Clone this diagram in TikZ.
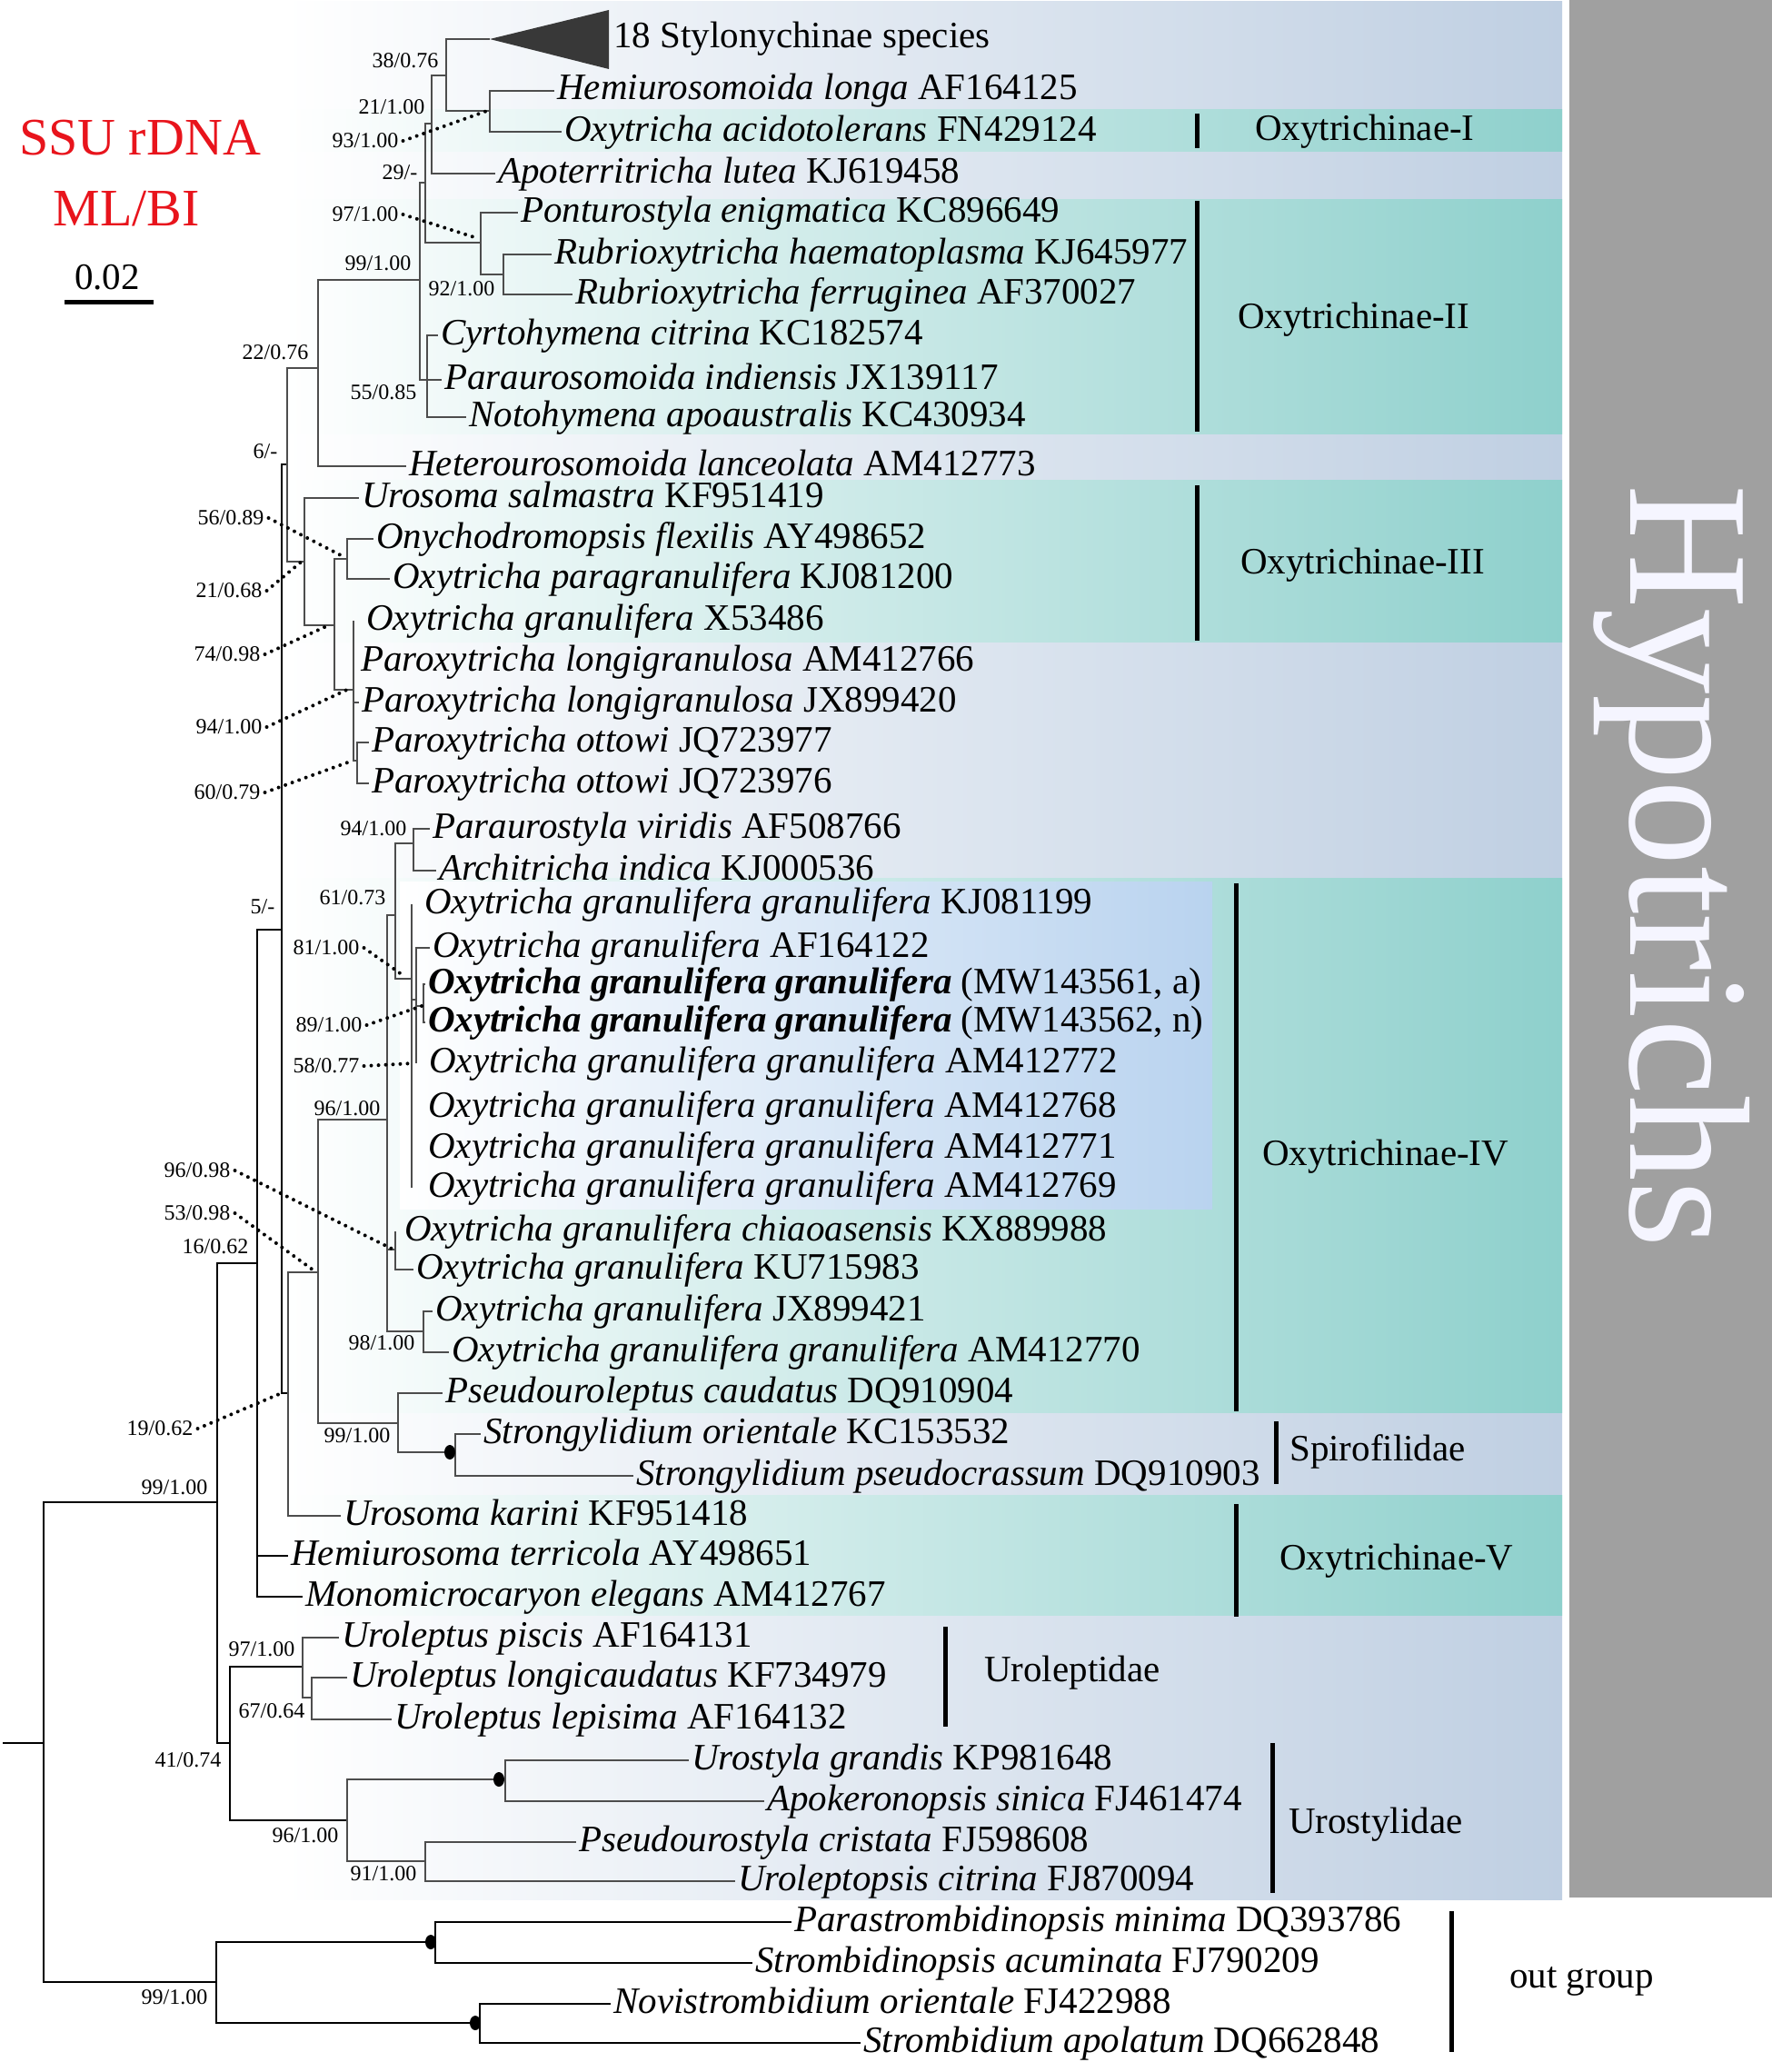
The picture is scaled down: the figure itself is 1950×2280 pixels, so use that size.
\documentclass[tikz,border=0pt]{standalone}
\usepackage{fontspec}
\setmainfont{Liberation Serif}
\definecolor{panelc}{HTML}{BFCFE2}
\definecolor{tealc}{HTML}{8ED0CC}
\definecolor{boxc}{HTML}{B9D3EF}
\definecolor{grayc}{HTML}{A0A0A0}
\definecolor{ssured}{HTML}{E8141C}
\definecolor{brc}{HTML}{4D4D4D}
\begin{document}
\begin{tikzpicture}[x=1pt,y=-1pt,
 leaf/.style={anchor=west,inner sep=0pt,inner xsep=3pt,text height=29pt,text depth=9pt,font=\fontsize{41}{49}\selectfont},
 suplab/.style={inner sep=0pt,font=\fontsize{24}{28}\selectfont},
 br/.style={draw=brc,line width=2.2pt},
 brk/.style={draw=black,line width=2.6pt},
 dotl/.style={draw=black,line width=4pt,line cap=round,dash pattern=on 0pt off 8pt},
 grpbar/.style={draw=black,line width=5pt}]
\useasboundingbox (0,0) rectangle (1950,2280);
% ---------- backgrounds ----------
\shade[left color=white,right color=panelc] (312,2) rectangle (1719,2090);
\foreach \a/\b in {121/166,219/477,528/706,966/1554,1645/1777}
  \shade[left color=white,right color=tealc] (312,\a) rectangle (1719,\b);
\shade[left color=white,right color=boxc] (440,970) rectangle (1334,1330);
\fill[grayc] (1727,0) rectangle (1950,2088);
\node[rotate=-90,anchor=base west,inner sep=0pt,text=white!96!blue,font=\fontsize{189}{200}\selectfont] (hyp) at (1794,533) {Hypotrichs};
% ---------- title / scale ----------
\node[inner sep=0pt,text=ssured,font=\fontsize{58}{64}\selectfont] (t1) at (154,152) {SSU rDNA};
\node[inner sep=0pt,text=ssured,font=\fontsize{58}{64}\selectfont] (t2) at (139,230) {ML/BI};
\node[inner sep=0pt,font=\fontsize{41}{48}\selectfont] (sc) at (118,305) {0.02};
\coordinate (sb1) at (71,332); \coordinate (sb2) at (169,332);
\draw[line width=5pt] (sb1) -- (sb2);
% ---------- internal nodes ----------
\coordinate (root) at (48,1918);
\coordinate (r0) at (3,1918);
\coordinate (nin) at (239,1653);
\coordinate (nout) at (238,2181);
\coordinate (no1) at (479,2137);
\coordinate (no2) at (528,2226);
\coordinate (n16) at (283,1390);
\coordinate (n41) at (253,1918);
\coordinate (n97u) at (333,1834);
\coordinate (n67) at (343,1868);
\coordinate (n96u) at (382,2003);
\coordinate (nus) at (556,1958);
\coordinate (n91) at (468,2048);
\coordinate (n5) at (310,1023);
\coordinate (n6) at (316,511);
\coordinate (n22) at (350,405);
\coordinate (n99a) at (462,308);
\coordinate (n29) at (468,201);
\coordinate (n21) at (475,136);
\coordinate (n38) at (491,83);
\coordinate (n93) at (539,122);
\coordinate (n97) at (529,267);
\coordinate (n92) at (554,302);
\coordinate (n55) at (470,418);
\coordinate (n2168) at (335,618);
\coordinate (n74) at (368,688);
\coordinate (n56) at (382,615);
\coordinate (n94p) at (389,759);
\coordinate (n60) at (393,837);
\coordinate (n19) at (317,1533);
\coordinate (n53) at (350,1400);
\coordinate (n96) at (426,1232);
\coordinate (n61) at (435,1007);
\coordinate (n94a) at (455,928);
\coordinate (n81) at (453,1077);
\coordinate (n58) at (458,1100);
\coordinate (n89) at (466,1107);
\coordinate (n9698) at (435,1375);
\coordinate (n98) at (466,1465);
\coordinate (n99s) at (438,1566);
\coordinate (nst) at (501,1598);
\coordinate (tri) at (539,43);
\coordinate (tr1) at (670,11);
\coordinate (tr2) at (670,76);
% ---------- leaves ----------
\node[leaf] (L1) at (672,43) {18 Stylonychinae species};
\node[leaf] (L2) at (610,100) {\textit{Hemiurosomoida longa} AF164125};
\node[leaf] (L3) at (618,145) {\textit{Oxytricha acidotolerans} FN429124};
\node[leaf] (L4) at (545,191) {\textit{Apoterritricha lutea} KJ619458};
\node[leaf] (L5) at (570,234) {\textit{Ponturostyla enigmatica} KC896649};
\node[leaf] (L6) at (607,280) {\textit{Rubrioxytricha haematoplasma} KJ645977};
\node[leaf] (L7) at (630,324) {\textit{Rubrioxytricha ferruginea} AF370027};
\node[leaf] (L8) at (482,369) {\textit{Cyrtohymena citrina} KC182574};
\node[leaf] (L9) at (486,418) {\textit{Paraurosomoida indiensis} JX139117};
\node[leaf] (L10) at (513,459) {\textit{Notohymena apoaustralis} KC430934};
\node[leaf] (L11) at (447,513) {\textit{Heterourosomoida lanceolata} AM412773};
\node[leaf] (L12) at (395,548) {\textit{Urosoma salmastra} KF951419};
\node[leaf] (L13) at (411,593) {\textit{Onychodromopsis flexilis} AY498652};
\node[leaf] (L14) at (429,637) {\textit{Oxytricha paragranulifera} KJ081200};
\node[leaf] (L15) at (400,683) {\textit{Oxytricha granulifera} X53486};
\node[leaf] (L16) at (394,728) {\textit{Paroxytricha longigranulosa} AM412766};
\node[leaf] (L17) at (395,773) {\textit{Paroxytricha longigranulosa} JX899420};
\node[leaf] (L18) at (406,817) {\textit{Paroxytricha ottowi} JQ723977};
\node[leaf] (L19) at (406,862) {\textit{Paroxytricha ottowi} JQ723976};
\node[leaf] (L20) at (473,912) {\textit{Paraurostyla viridis} AF508766};
\node[leaf] (L21) at (480,958) {\textit{Architricha indica} KJ000536};
\node[leaf] (L22) at (464,995) {\textit{Oxytricha granulifera granulifera} KJ081199};
\node[leaf] (L23) at (473,1043) {\textit{Oxytricha granulifera} AF164122};
\node[leaf] (L24) at (468,1083) {\textbf{\textit{Oxytricha granulifera granulifera}} (MW143561, a)};
\node[leaf] (L25) at (468,1125) {\textbf{\textit{Oxytricha granulifera granulifera}} (MW143562, n)};
\node[leaf] (L26) at (469,1170) {\textit{Oxytricha granulifera granulifera} AM412772};
\node[leaf] (L27) at (468,1219) {\textit{Oxytricha granulifera granulifera} AM412768};
\node[leaf] (L28) at (468,1264) {\textit{Oxytricha granulifera granulifera} AM412771};
\node[leaf] (L29) at (468,1307) {\textit{Oxytricha granulifera granulifera} AM412769};
\node[leaf] (L30) at (442,1355) {\textit{Oxytricha granulifera chiaoasensis} KX889988};
\node[leaf] (L31) at (455,1397) {\textit{Oxytricha granulifera} KU715983};
\node[leaf] (L32) at (476,1443) {\textit{Oxytricha granulifera} JX899421};
\node[leaf] (L33) at (494,1488) {\textit{Oxytricha granulifera granulifera} AM412770};
\node[leaf] (L34) at (487,1533) {\textit{Pseudouroleptus caudatus} DQ910904};
\node[leaf] (L35) at (529,1578) {\textit{Strongylidium orientale} KC153532};
\node[leaf] (L36) at (697,1624) {\textit{Strongylidium pseudocrassum} DQ910903};
\node[leaf] (L37) at (375,1668) {\textit{Urosoma karini} KF951418};
\node[leaf] (L38) at (317,1712) {\textit{Hemiurosoma terricola} AY498651};
\node[leaf] (L39) at (333,1757) {\textit{Monomicrocaryon elegans} AM412767};
\node[leaf] (L40) at (373,1802) {\textit{Uroleptus piscis} AF164131};
\node[leaf] (L41) at (382,1846) {\textit{Uroleptus longicaudatus} KF734979};
\node[leaf] (L42) at (431,1892) {\textit{Uroleptus lepisima} AF164132};
\node[leaf] (L43) at (758,1937) {\textit{Urostyla grandis} KP981648};
\node[leaf] (L44) at (841,1982) {\textit{Apokeronopsis sinica} FJ461474};
\node[leaf] (L45) at (634,2027) {\textit{Pseudourostyla cristata} FJ598608};
\node[leaf] (L46) at (809,2070) {\textit{Uroleptopsis citrina} FJ870094};
\node[leaf] (L47) at (871,2115) {\textit{Parastrombidinopsis minima} DQ393786};
\node[leaf] (L48) at (828,2160) {\textit{Strombidinopsis acuminata} FJ790209};
\node[leaf] (L49) at (672,2205) {\textit{Novistrombidium orientale} FJ422988};
\node[leaf] (L50) at (947,2248) {\textit{Strombidium apolatum} DQ662848};
% ---------- branches ----------
\fill[black!78] (tri) -- (tr1) -- (tr2) -- cycle;
\draw[brk] (r0) -- (root);
\draw[brk] (root) |- (nin); \draw[brk] (root) |- (nout);
\draw[brk] (nin) |- (n16); \draw[brk] (nin) |- (n41);
\draw[brk] (n16) |- (n5); \draw[brk] (n16) |- (L38.west); \draw[brk] (n16) |- (L39.west);
\draw[brk] (n5) |- (n6); \draw[brk] (n5) |- (n19);
\draw[br] (n6) |- (n22); \draw[br] (n6) |- (n2168);
\draw[br] (n22) |- (n99a); \draw[br] (n22) |- (L11.west);
\draw[br] (n99a) |- (n29); \draw[br] (n99a) |- (n55);
\draw[br] (n29) |- (n21); \draw[br] (n29) |- (n97);
\draw[br] (n21) |- (n38); \draw[br] (n21) |- (L4.west);
\draw[br] (n38) |- (tri); \draw[br] (n38) |- (n93);
\draw[br] (n93) |- (L2.west); \draw[br] (n93) |- (L3.west);
\draw[br] (n97) |- (L5.west); \draw[br] (n97) |- (n92);
\draw[br] (n92) |- (L6.west); \draw[br] (n92) |- (L7.west);
\draw[br] (n55) |- (L8.west); \draw[br] (n55) -- (L9.west); \draw[br] (n55) |- (L10.west);
\draw[br] (n2168) |- (L12.west); \draw[br] (n2168) |- (n74);
\draw[br] (n74) |- (n56); \draw[br] (n74) |- (n94p);
\draw[br] (n56) |- (L13.west); \draw[br] (n56) |- (L14.west);
\draw[br] (n94p) -- (n94p |- L15.west); \draw[br] (n94p) |- (L17.west); \draw[br] (n94p) |- (n60);
\draw[br] (n60) |- (L18.west); \draw[br] (n60) |- (L19.west);
\draw[br] (n19) |- (n53); \draw[br] (n19) |- (L37.west);
\draw[br] (n53) |- (n96); \draw[br] (n53) |- (n99s);
\draw[br] (n96) |- (n61); \draw[br] (n96) |- (n9698); \draw[br] (n96) |- (n98);
\draw[br] (n61) |- (n94a); \draw[br] (n61) |- (n81);
\draw[br] (n94a) |- (L20.west); \draw[br] (n94a) |- (L21.west);
\draw[br] (n81) -- (n81 |- L22.west); \draw[br] (n81) -- (n81 |- L29.west); \draw[br] (n81) |- (n58);
\draw[br] (n58) |- (L23.west); \draw[br] (n58) -- (n58 |- L26.west); \draw[br] (n58) |- (n89);
\draw[br] (n89) |- (L24.west); \draw[br] (n89) |- (L25.west);
\draw[br] (n9698) -- (n9698 |- L30.west); \draw[br] (n9698) |- (L31.west);
\draw[br] (n98) |- (L32.west); \draw[br] (n98) |- (L33.west);
\draw[br] (n99s) |- (L34.west); \draw[br] (n99s) |- (nst);
\draw[br] (nst) |- (L35.west); \draw[br] (nst) |- (L36.west);
\draw[brk] (n41) |- (n97u); \draw[brk] (n41) |- (n96u);
\draw[br] (n97u) |- (L40.west); \draw[br] (n97u) |- (n67);
\draw[br] (n67) |- (L41.west); \draw[br] (n67) |- (L42.west);
\draw[br] (n96u) |- (nus); \draw[br] (n96u) |- (n91);
\draw[br] (nus) |- (L43.west); \draw[br] (nus) |- (L44.west);
\draw[br] (n91) |- (L45.west); \draw[br] (n91) |- (L46.west);
\draw[brk] (nout) |- (no1); \draw[brk] (nout) |- (no2);
\draw[brk] (no1) |- (L47.west); \draw[brk] (no1) |- (L48.west);
\draw[brk] (no2) |- (L49.west); \draw[brk] (no2) |- (L50.west);
% node dots
\fill[black] ([xshift=-6pt]nst) ellipse (6pt and 8pt);
\fill[black] ([xshift=-7pt]nus) ellipse (6pt and 8pt);
\fill[black] ([xshift=-5pt]no1) ellipse (6pt and 8pt);
\fill[black] ([xshift=-5pt]no2) ellipse (6pt and 8pt);
% ---------- support values ----------
\node[suplab] (s38) at (446,67) {38/0.76};
\node[suplab] (s21) at (431,118) {21/1.00};
\node[suplab] (s93) at (402,155) {93/1.00};
\node[suplab] (s29) at (440,190) {29/-};
\node[suplab] (s97) at (402,236) {97/1.00};
\node[suplab] (s99a) at (416,290) {99/1.00};
\node[suplab] (s92) at (508,318) {92/1.00};
\node[suplab] (s22) at (303,388) {22/0.76};
\node[suplab] (s55) at (422,432) {55/0.85};
\node[suplab] (s6) at (292,497) {6/-};
\node[suplab] (s56) at (254,570) {56/0.89};
\node[suplab] (s2168) at (252,650) {21/0.68};
\node[suplab] (s74) at (250,720) {74/0.98};
\node[suplab] (s94p) at (252,800) {94/1.00};
\node[suplab] (s60) at (250,872) {60/0.79};
\node[suplab] (s94a) at (411,912) {94/1.00};
\node[suplab] (s61) at (388,988) {61/0.73};
\node[suplab] (s5) at (289,998) {5/-};
\node[suplab] (s81) at (359,1043) {81/1.00};
\node[suplab] (s89) at (362,1128) {89/1.00};
\node[suplab] (s58) at (359,1173) {58/0.77};
\node[suplab] (s96) at (382,1220) {96/1.00};
\node[suplab] (s9698) at (217,1288) {96/0.98};
\node[suplab] (s53) at (217,1335) {53/0.98};
\node[suplab] (s16) at (237,1372) {16/0.62};
\node[suplab] (s98) at (420,1478) {98/1.00};
\node[suplab] (s99s) at (393,1580) {99/1.00};
\node[suplab] (s19) at (176,1572) {19/0.62};
\node[suplab] (s99in) at (192,1637) {99/1.00};
\node[suplab] (s97u) at (288,1815) {97/1.00};
\node[suplab] (s67) at (299,1883) {67/0.64};
\node[suplab] (s41) at (207,1937) {41/0.74};
\node[suplab] (s96u) at (336,2020) {96/1.00};
\node[suplab] (s91) at (422,2062) {91/1.00};
\node[suplab] (s99out) at (192,2198) {99/1.00};
% dotted leaders
\coordinate (d93) at (536,122);
\coordinate (d97) at (525,262);
\coordinate (d56) at (377,612);
\coordinate (d2168) at (333,617);
\coordinate (d74) at (364,687);
\coordinate (d94p) at (384,758);
\coordinate (d60) at (388,837);
\coordinate (d81) at (446,1075);
\coordinate (d89) at (464,1107);
\coordinate (d58) at (455,1170);
\coordinate (d9698) at (433,1375);
\coordinate (d53) at (348,1400);
\coordinate (d19) at (312,1532);
\foreach \s in {93,97,56,2168,74,94p,60,81,89,58,9698,53,19}
  \draw[dotl] ([xshift=5pt]s\s.east) -- (d\s);
% ---------- group bars and labels ----------
\draw[grpbar] (1317,125) -- (1317,163);
\draw[grpbar] (1317,221) -- (1317,475);
\draw[grpbar] (1317,534) -- (1317,705);
\draw[grpbar] (1360,972) -- (1360,1553);
\draw[grpbar] (1404,1564) -- (1404,1633);
\draw[grpbar] (1360,1655) -- (1360,1779);
\draw[grpbar] (1040,1790) -- (1040,1900);
\draw[grpbar] (1400,1918) -- (1400,2083);
\draw[grpbar] (1597,2103) -- (1597,2258);
\node[leaf] (g1) at (1378,144) {Oxytrichinae-I};
\node[leaf] (g2) at (1359,351) {Oxytrichinae-II};
\node[leaf] (g3) at (1362,621) {Oxytrichinae-III};
\node[leaf] (g4) at (1386,1272) {Oxytrichinae-IV};
\node[leaf] (g5) at (1416,1597) {Spirofilidae};
\node[leaf] (g6) at (1405,1717) {Oxytrichinae-V};
\node[leaf] (g7) at (1080,1840) {Uroleptidae};
\node[leaf] (g8) at (1415,2007) {Urostylidae};
\node[leaf] (g9) at (1658,2177) {out group};
\end{tikzpicture}
\end{document}
